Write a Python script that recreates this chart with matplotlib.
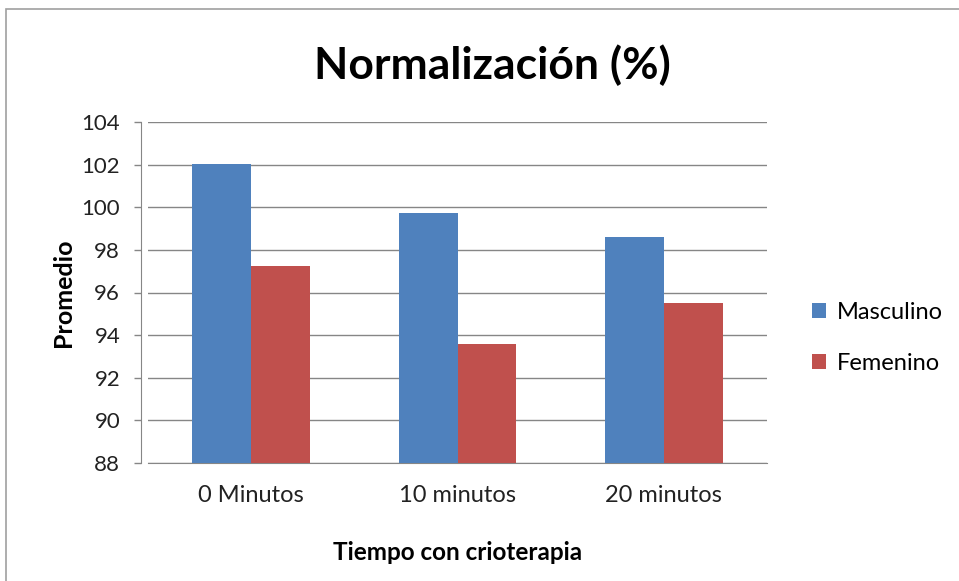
import matplotlib
matplotlib.use("Agg")
import matplotlib.pyplot as plt
import numpy as np
from matplotlib.patches import Rectangle

categories = ["0 Minutos", "10 minutos", "20 minutos"]
masculino = [102.05, 99.75, 98.62]
femenino = [97.25, 93.57, 95.52]
yticks = [88, 90, 92, 94, 96, 98, 100, 102, 104]

plt.rcParams['font.family'] = ['Lato', 'DejaVu Sans']

fig = plt.figure(figsize=(9.59, 5.81), dpi=100)
ax = fig.add_axes([148/959, 118/581, (767-148)/959, (463-122)/581])

for s in ["top", "right"]:
    ax.spines[s].set_visible(False)
ax.spines["left"].set_position(("outward", 5))
ax.spines["left"].set_color("#868686")
ax.spines["bottom"].set_color("#868686")

x = np.arange(len(categories))
w = 0.2857
blue = "#4F81BD"
red = "#C0504D"
ax.bar(x - w/2, masculino, w, color=blue, label="Masculino", zorder=3)
ax.bar(x + w/2, femenino, w, color=red, label="Femenino", zorder=3)

ax.set_xlim(-0.5, 2.5)
ax.set_ylim(88, 104)
ax.set_yticks(yticks)
ax.set_yticklabels([str(t) for t in yticks], fontsize=16, color="#222222")
ax.set_xticks(x)
ax.set_xticklabels(categories, fontsize=17, color="#222222")
ax.tick_params(axis='x', length=0, pad=16)
ax.tick_params(axis='y', length=5, width=1, color="#868686", pad=10)
ax.yaxis.grid(True, color="#868686", linewidth=1, zorder=0)

ax.set_ylabel("Promedio", fontsize=18, fontweight="bold", labelpad=5)
ax.set_xlabel("Tiempo con crioterapia", fontsize=17.5, fontweight="bold", labelpad=25)

fig.text(492/959, 1 - 65/581, "Normalización (%)", fontsize=32, fontweight="bold",
         ha="center", va="center")

ax.legend(loc="center left", bbox_to_anchor=(791/959, 1 - 338/581), bbox_transform=fig.transFigure,
          frameon=False, fontsize=17, handlelength=0.6, handleheight=0.6,
          handletextpad=0.45, labelspacing=1.25)

fig.patches.append(Rectangle((6/959, -0.1), 1.2, 1 - 9/581 + 0.1, transform=fig.transFigure,
                             fill=False, edgecolor="#A0A0A0", linewidth=1.2))

fig.savefig("out.png", dpi=100)
